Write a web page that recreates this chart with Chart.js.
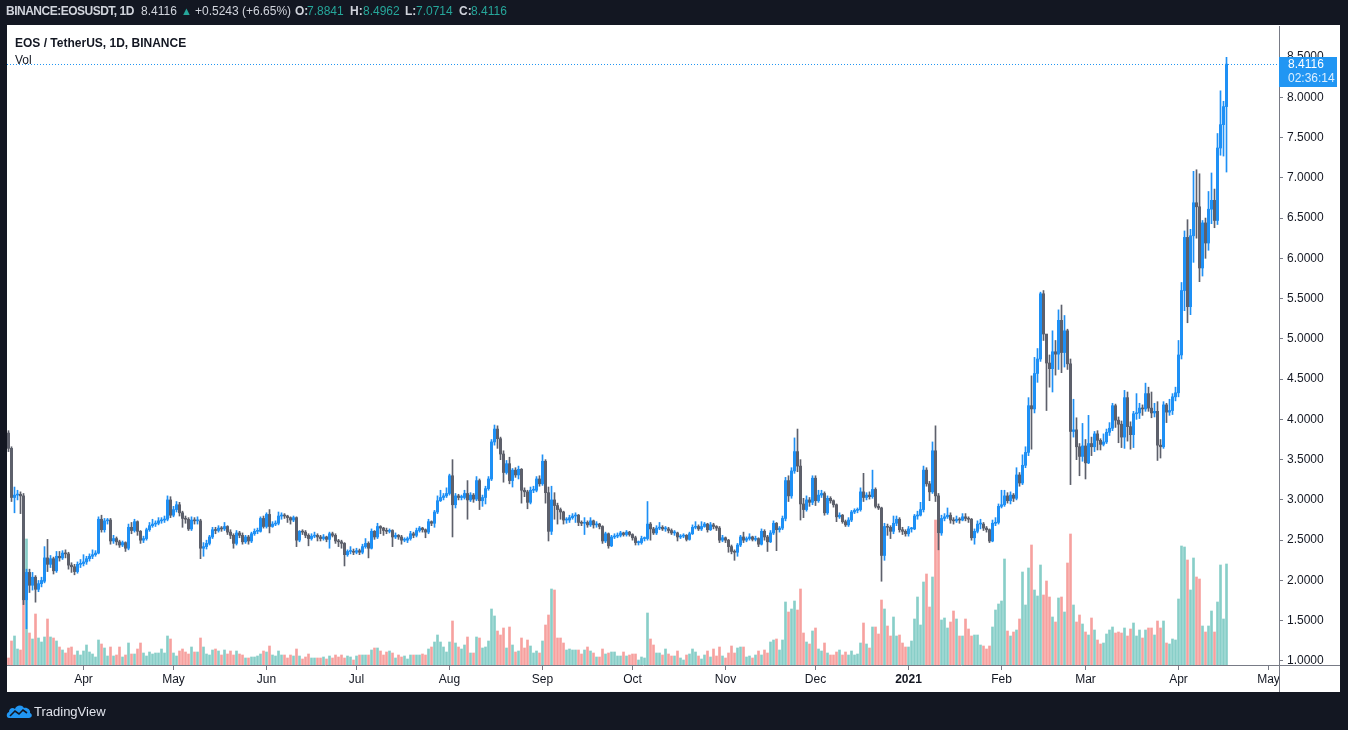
<!DOCTYPE html>
<html>
<head>
<meta charset="utf-8">
<script src="https://cdn.jsdelivr.net/npm/chart.js@4.4.1/dist/chart.umd.min.js"></script>
<style>
html, body { margin: 0; padding: 0; background: #131722; width: 1348px; height: 730px; overflow: hidden; font-family: "Liberation Sans", Arial, sans-serif; }
#panel { position: absolute; left: 7px; top: 25px; width: 1333px; height: 667px; background: #ffffff; }
#chart { position: absolute; left: 0; top: 0; }
.hd { position: absolute; top: 4px; font-size: 12px; line-height: 14px; color: #d1d4dc; white-space: nowrap; }
.b { font-weight: bold; }
.t { color: #26a69a; }
.ttl { position: absolute; left: 15px; font-size: 12px; color: #131722; white-space: nowrap; }
#brand { position: absolute; left: 34px; top: 704px; font-size: 13px; color: #e0e3eb; }
#logo { position: absolute; left: 6px; top: 702px; }
</style>
</head>
<body>
<div id="panel"></div>
<canvas id="chart" width="1348" height="730"></canvas>

<div class="hd b" style="left:6px;letter-spacing:-0.5px">BINANCE:EOSUSDT, 1D</div>
<div class="hd" style="left:141px">8.4116</div>
<div class="hd t" style="left:181px;font-size:11px">▲</div>
<div class="hd" style="left:195px">+0.5243 (+6.65%)</div>
<div class="hd b" style="left:295px">O:</div><div class="hd t" style="left:307px">7.8841</div>
<div class="hd b" style="left:350px">H:</div><div class="hd t" style="left:363px">8.4962</div>
<div class="hd b" style="left:405px">L:</div><div class="hd t" style="left:416px">7.0714</div>
<div class="hd b" style="left:459px">C:</div><div class="hd t" style="left:471px">8.4116</div>

<div class="ttl b" style="top:36px">EOS / TetherUS, 1D, BINANCE</div>
<div class="ttl" style="top:53px">Vol</div>

<svg id="logo" width="27" height="18" viewBox="0 0 27 18">
  <path d="M3 16 C0 16 0 11 3 10 C3 6 7 5 9 7 C10 3 16 2 18 6 C21 5 25 8 24 11 C27 12 26 16 23 16 Z" fill="#2196f3"/>
  <path d="M4 14 L9 9 L13 12 L17 8 L21 11" stroke="#131722" stroke-width="1.6" fill="none"/>
</svg>
<div id="brand">TradingView</div>

<script>
// daily candles, first one 2020-03-07
const firstDay = '2020-03-07';
const slotCount = 424; // includes empty days to the right of the last candle

const opens = [
    3.83, 3.64, 3.03, 3.06, 3.07, 3.05, 1.76, 2.10, 1.94, 2.04,
    1.89, 1.96, 1.99, 2.28, 2.20, 2.27, 2.12, 2.30, 2.28, 2.34,
    2.33, 2.19, 2.17, 2.11, 2.20, 2.21, 2.23, 2.27, 2.30, 2.32,
    2.34, 2.76, 2.63, 2.74, 2.75, 2.49, 2.52, 2.48, 2.44, 2.47,
    2.40, 2.66, 2.62, 2.73, 2.61, 2.50, 2.52, 2.63, 2.68, 2.70,
    2.71, 2.74, 2.75, 2.76, 3.00, 2.81, 2.88, 2.94, 2.84, 2.77,
    2.76, 2.64, 2.75, 2.74, 2.74, 2.40, 2.42, 2.46, 2.54, 2.63,
    2.62, 2.65, 2.64, 2.67, 2.60, 2.56, 2.46, 2.59, 2.56, 2.48,
    2.54, 2.49, 2.58, 2.61, 2.61, 2.77, 2.67, 2.82, 2.67, 2.70,
    2.71, 2.80, 2.81, 2.80, 2.78, 2.75, 2.78, 2.50, 2.61, 2.60,
    2.56, 2.52, 2.55, 2.56, 2.54, 2.52, 2.54, 2.51, 2.58, 2.56,
    2.49, 2.48, 2.46, 2.32, 2.36, 2.36, 2.35, 2.37, 2.35, 2.42,
    2.46, 2.40, 2.61, 2.54, 2.67, 2.65, 2.62, 2.61, 2.62, 2.54,
    2.56, 2.54, 2.50, 2.50, 2.52, 2.58, 2.56, 2.62, 2.65, 2.63,
    2.60, 2.73, 2.71, 2.85, 2.99, 3.03, 3.05, 3.08, 3.30, 2.94,
    3.05, 3.03, 3.03, 3.08, 3.00, 3.06, 3.01, 3.24, 2.99, 3.03,
    3.14, 3.26, 3.72, 3.88, 3.76, 3.57, 3.34, 3.45, 3.24, 3.37,
    3.31, 3.38, 3.12, 3.10, 2.97, 3.12, 3.12, 3.26, 3.20, 3.48,
    3.09, 2.61, 3.00, 2.93, 2.88, 2.85, 2.75, 2.75, 2.78, 2.80,
    2.81, 2.72, 2.71, 2.72, 2.69, 2.74, 2.69, 2.70, 2.67, 2.49,
    2.58, 2.43, 2.54, 2.55, 2.56, 2.59, 2.57, 2.60, 2.57, 2.53,
    2.47, 2.47, 2.52, 2.52, 2.70, 2.64, 2.59, 2.65, 2.66, 2.64,
    2.64, 2.62, 2.59, 2.59, 2.54, 2.55, 2.56, 2.51, 2.58, 2.66,
    2.67, 2.64, 2.67, 2.70, 2.63, 2.69, 2.67, 2.65, 2.50, 2.53,
    2.50, 2.42, 2.36, 2.35, 2.44, 2.54, 2.50, 2.52, 2.54, 2.51,
    2.52, 2.45, 2.61, 2.54, 2.48, 2.59, 2.71, 2.63, 2.65, 2.77,
    3.24, 3.05, 3.36, 3.60, 3.42, 2.95, 2.88, 3.00, 2.97, 3.27,
    2.99, 3.06, 3.08, 2.84, 3.02, 2.99, 2.94, 2.79, 2.81, 2.73,
    2.69, 2.75, 2.85, 2.87, 2.88, 3.10, 3.03, 3.06, 3.04, 3.13,
    2.92, 2.90, 2.31, 2.67, 2.66, 2.61, 2.71, 2.76, 2.63, 2.61,
    2.58, 2.64, 2.64, 2.80, 2.81, 2.88, 3.37, 3.20, 3.10, 3.61,
    3.05, 2.59, 2.77, 2.79, 2.81, 2.75, 2.74, 2.76, 2.75, 2.79,
    2.77, 2.76, 2.53, 2.61, 2.70, 2.70, 2.65, 2.63, 2.49, 2.71,
    2.72, 2.92, 2.94, 3.05, 2.99, 3.06, 3.02, 3.31, 3.21, 3.43,
    3.59, 4.17, 4.13, 4.57, 4.75, 5.56, 5.06, 4.70, 4.63, 4.84,
    4.81, 5.23, 4.83, 5.10, 4.69, 3.85, 3.87, 3.66, 3.54, 3.67,
    3.46, 3.70, 3.66, 3.82, 3.74, 3.69, 3.72, 3.84, 3.89, 4.17,
    3.99, 3.94, 3.78, 4.27, 3.91, 3.81, 4.07, 4.08, 4.14, 4.13,
    4.32, 4.14, 4.08, 4.10, 3.68, 3.66, 4.18, 4.09, 4.11, 4.28,
    4.33, 4.80, 5.60, 6.26, 5.40, 6.28, 6.69, 6.64, 5.88, 6.44,
    6.19, 6.61, 6.72, 6.47, 7.37, 7.66, 7.8841
];

const highs = [
    3.86, 3.66, 3.16, 3.12, 3.10, 3.08, 2.14, 2.14, 2.10, 2.06,
    2.00, 2.04, 2.42, 2.51, 2.31, 2.29, 2.36, 2.36, 2.37, 2.38,
    2.35, 2.22, 2.20, 2.23, 2.26, 2.32, 2.30, 2.33, 2.38, 2.37,
    2.79, 2.81, 2.77, 2.77, 2.77, 2.56, 2.54, 2.50, 2.49, 2.48,
    2.70, 2.72, 2.76, 2.74, 2.62, 2.55, 2.65, 2.72, 2.76, 2.74,
    2.78, 2.78, 2.80, 3.05, 3.04, 2.92, 2.98, 2.97, 2.86, 2.80,
    2.78, 2.79, 2.78, 2.79, 2.76, 2.47, 2.50, 2.56, 2.66, 2.66,
    2.68, 2.67, 2.72, 2.68, 2.63, 2.58, 2.62, 2.61, 2.59, 2.56,
    2.56, 2.60, 2.64, 2.65, 2.79, 2.80, 2.84, 2.88, 2.73, 2.74,
    2.85, 2.84, 2.83, 2.81, 2.79, 2.80, 2.79, 2.62, 2.63, 2.62,
    2.58, 2.58, 2.60, 2.58, 2.56, 2.57, 2.55, 2.60, 2.60, 2.58,
    2.51, 2.50, 2.47, 2.38, 2.42, 2.39, 2.40, 2.39, 2.45, 2.52,
    2.48, 2.64, 2.62, 2.71, 2.68, 2.66, 2.65, 2.64, 2.63, 2.59,
    2.57, 2.56, 2.53, 2.54, 2.61, 2.60, 2.65, 2.67, 2.66, 2.64,
    2.76, 2.74, 2.87, 3.05, 3.12, 3.08, 3.15, 3.32, 3.50, 3.08,
    3.07, 3.06, 3.12, 3.24, 3.09, 3.08, 3.29, 3.26, 3.06, 3.17,
    3.29, 3.75, 3.93, 3.92, 3.78, 3.61, 3.49, 3.53, 3.39, 3.40,
    3.42, 3.39, 3.15, 3.12, 3.16, 3.17, 3.29, 3.30, 3.56, 3.50,
    3.16, 3.17, 3.09, 2.96, 2.90, 2.86, 2.78, 2.81, 2.83, 2.84,
    2.82, 2.74, 2.78, 2.74, 2.78, 2.75, 2.73, 2.71, 2.68, 2.60,
    2.59, 2.56, 2.58, 2.59, 2.61, 2.60, 2.62, 2.61, 2.58, 2.55,
    2.49, 2.55, 2.54, 2.98, 2.72, 2.66, 2.68, 2.72, 2.68, 2.67,
    2.66, 2.64, 2.62, 2.60, 2.57, 2.58, 2.57, 2.60, 2.69, 2.73,
    2.69, 2.73, 2.72, 2.71, 2.72, 2.71, 2.68, 2.67, 2.56, 2.54,
    2.51, 2.44, 2.38, 2.46, 2.56, 2.60, 2.54, 2.58, 2.55, 2.55,
    2.53, 2.64, 2.63, 2.56, 2.62, 2.74, 2.72, 2.67, 2.80, 3.28,
    3.30, 3.40, 3.77, 3.88, 3.50, 3.02, 3.05, 3.03, 3.30, 3.30,
    3.12, 3.12, 3.10, 3.05, 3.04, 3.00, 2.95, 2.84, 2.82, 2.75,
    2.78, 2.87, 2.89, 2.90, 3.15, 3.33, 3.09, 3.10, 3.37, 3.15,
    2.95, 2.91, 2.71, 2.70, 2.68, 2.80, 2.80, 2.78, 2.66, 2.63,
    2.67, 2.66, 2.82, 2.86, 2.97, 3.42, 3.40, 3.23, 3.72, 3.92,
    3.08, 2.81, 2.83, 2.90, 2.84, 2.78, 2.80, 2.78, 2.83, 2.83,
    2.79, 2.77, 2.64, 2.74, 2.76, 2.72, 2.67, 2.64, 2.75, 2.78,
    2.95, 3.12, 3.12, 3.09, 3.10, 3.08, 3.40, 3.34, 3.56, 3.66,
    4.27, 4.54, 4.77, 4.88, 5.58, 5.60, 5.05, 4.80, 5.10, 4.98,
    5.36, 5.42, 5.29, 5.12, 4.75, 4.25, 4.02, 3.70, 3.95, 3.75,
    4.05, 3.78, 3.85, 3.86, 3.76, 3.82, 3.88, 3.96, 4.20, 4.19,
    4.03, 3.98, 4.36, 4.34, 3.97, 4.10, 4.32, 4.20, 4.18, 4.45,
    4.40, 4.34, 4.20, 4.22, 3.75, 4.22, 4.20, 4.25, 4.32, 4.40,
    4.98, 5.70, 6.34, 6.48, 6.36, 7.08, 7.10, 7.05, 6.47, 6.50,
    6.83, 7.06, 6.86, 7.55, 8.08, 7.95, 8.4962
];

const lows = [
    3.60, 2.98, 2.84, 3.00, 2.83, 1.70, 1.40, 1.85, 1.88, 1.73,
    1.86, 1.92, 1.97, 2.11, 2.16, 2.08, 2.10, 2.24, 2.26, 2.28,
    2.14, 2.10, 2.07, 2.09, 2.16, 2.18, 2.20, 2.24, 2.27, 2.30,
    2.33, 2.60, 2.60, 2.70, 2.45, 2.46, 2.44, 2.41, 2.42, 2.36,
    2.38, 2.58, 2.60, 2.56, 2.46, 2.47, 2.50, 2.61, 2.66, 2.67,
    2.69, 2.71, 2.72, 2.74, 2.78, 2.79, 2.85, 2.80, 2.66, 2.71,
    2.62, 2.62, 2.70, 2.70, 2.27, 2.30, 2.39, 2.44, 2.52, 2.58,
    2.60, 2.61, 2.62, 2.57, 2.52, 2.40, 2.44, 2.53, 2.45, 2.46,
    2.45, 2.47, 2.56, 2.58, 2.60, 2.65, 2.65, 2.59, 2.66, 2.68,
    2.69, 2.76, 2.77, 2.72, 2.70, 2.73, 2.42, 2.48, 2.57, 2.53,
    2.43, 2.50, 2.53, 2.49, 2.49, 2.50, 2.48, 2.40, 2.54, 2.46,
    2.42, 2.40, 2.18, 2.30, 2.33, 2.32, 2.33, 2.32, 2.33, 2.40,
    2.28, 2.39, 2.51, 2.52, 2.58, 2.56, 2.58, 2.59, 2.42, 2.52,
    2.51, 2.45, 2.48, 2.47, 2.50, 2.53, 2.54, 2.60, 2.60, 2.53,
    2.58, 2.68, 2.66, 2.83, 2.98, 3.00, 3.03, 3.06, 2.54, 2.90,
    3.00, 3.00, 3.01, 2.76, 2.98, 2.97, 2.99, 2.88, 2.92, 2.95,
    3.12, 3.24, 3.68, 3.64, 3.50, 3.22, 3.32, 3.20, 3.16, 3.28,
    3.26, 2.96, 3.04, 2.89, 2.95, 3.09, 3.10, 3.17, 3.18, 2.96,
    2.49, 2.57, 2.76, 2.70, 2.76, 2.70, 2.71, 2.72, 2.76, 2.72,
    2.68, 2.68, 2.57, 2.66, 2.67, 2.65, 2.66, 2.64, 2.46, 2.47,
    2.40, 2.42, 2.52, 2.53, 2.54, 2.55, 2.55, 2.55, 2.50, 2.44,
    2.44, 2.45, 2.49, 2.50, 2.50, 2.57, 2.57, 2.63, 2.62, 2.61,
    2.59, 2.57, 2.56, 2.49, 2.52, 2.53, 2.49, 2.50, 2.57, 2.64,
    2.62, 2.62, 2.66, 2.60, 2.62, 2.64, 2.62, 2.47, 2.48, 2.47,
    2.35, 2.33, 2.25, 2.30, 2.42, 2.47, 2.48, 2.50, 2.49, 2.49,
    2.42, 2.44, 2.50, 2.36, 2.47, 2.57, 2.37, 2.60, 2.63, 2.74,
    2.98, 3.02, 3.33, 3.35, 2.75, 2.78, 2.86, 2.92, 2.94, 2.93,
    2.97, 3.03, 2.81, 2.82, 2.96, 2.91, 2.73, 2.77, 2.71, 2.67,
    2.67, 2.73, 2.83, 2.84, 2.86, 2.98, 3.00, 3.01, 3.02, 2.90,
    2.88, 1.99, 2.25, 2.56, 2.52, 2.58, 2.68, 2.60, 2.57, 2.55,
    2.55, 2.60, 2.63, 2.76, 2.80, 2.85, 3.17, 2.99, 3.08, 2.98,
    2.38, 2.56, 2.74, 2.77, 2.71, 2.70, 2.72, 2.71, 2.74, 2.74,
    2.72, 2.50, 2.45, 2.59, 2.64, 2.62, 2.60, 2.47, 2.48, 2.68,
    2.70, 2.90, 2.92, 2.96, 2.95, 2.98, 3.00, 3.17, 3.19, 3.40,
    3.55, 3.63, 4.08, 4.46, 4.72, 4.98, 4.11, 4.40, 4.34, 4.55,
    4.62, 4.58, 4.65, 4.62, 3.19, 3.78, 3.50, 3.30, 3.48, 3.26,
    3.45, 3.55, 3.60, 3.62, 3.62, 3.67, 3.70, 3.80, 3.86, 3.90,
    3.71, 3.65, 3.64, 3.73, 3.63, 3.65, 4.00, 4.01, 4.05, 4.10,
    4.10, 4.02, 4.03, 3.49, 3.52, 3.64, 3.96, 4.05, 4.06, 4.23,
    4.28, 4.75, 5.35, 5.20, 5.30, 5.95, 6.25, 5.71, 5.78, 6.00,
    6.10, 6.43, 6.38, 6.42, 7.28, 7.27, 7.0714
];

const closes = [
    3.64, 3.03, 3.06, 3.07, 3.05, 1.76, 2.10, 1.94, 2.04, 1.89,
    1.96, 2.00, 2.28, 2.20, 2.27, 2.12, 2.30, 2.28, 2.34, 2.33,
    2.19, 2.17, 2.11, 2.20, 2.21, 2.23, 2.27, 2.30, 2.32, 2.34,
    2.76, 2.63, 2.74, 2.75, 2.49, 2.52, 2.48, 2.44, 2.47, 2.40,
    2.66, 2.62, 2.73, 2.61, 2.50, 2.52, 2.63, 2.68, 2.70, 2.71,
    2.74, 2.75, 2.76, 3.00, 2.81, 2.88, 2.94, 2.84, 2.77, 2.76,
    2.64, 2.75, 2.74, 2.74, 2.40, 2.42, 2.46, 2.54, 2.63, 2.62,
    2.65, 2.64, 2.67, 2.60, 2.56, 2.46, 2.59, 2.56, 2.48, 2.54,
    2.49, 2.58, 2.61, 2.61, 2.77, 2.67, 2.82, 2.67, 2.70, 2.71,
    2.80, 2.81, 2.80, 2.78, 2.75, 2.78, 2.50, 2.61, 2.60, 2.56,
    2.52, 2.55, 2.56, 2.54, 2.52, 2.54, 2.51, 2.58, 2.56, 2.49,
    2.48, 2.46, 2.32, 2.36, 2.36, 2.35, 2.37, 2.35, 2.42, 2.46,
    2.40, 2.61, 2.54, 2.67, 2.65, 2.62, 2.61, 2.62, 2.54, 2.56,
    2.54, 2.50, 2.50, 2.52, 2.58, 2.56, 2.62, 2.65, 2.63, 2.60,
    2.73, 2.71, 2.85, 2.99, 3.03, 3.05, 3.08, 3.30, 2.94, 3.05,
    3.03, 3.03, 3.08, 3.00, 3.06, 3.01, 3.24, 2.99, 3.03, 3.14,
    3.26, 3.72, 3.88, 3.76, 3.57, 3.34, 3.45, 3.24, 3.37, 3.31,
    3.38, 3.12, 3.10, 2.97, 3.12, 3.12, 3.26, 3.20, 3.48, 3.09,
    2.61, 3.00, 2.93, 2.88, 2.85, 2.75, 2.75, 2.78, 2.80, 2.81,
    2.72, 2.71, 2.72, 2.69, 2.74, 2.69, 2.70, 2.67, 2.49, 2.58,
    2.43, 2.54, 2.55, 2.56, 2.59, 2.57, 2.60, 2.57, 2.53, 2.47,
    2.47, 2.52, 2.52, 2.70, 2.64, 2.59, 2.65, 2.66, 2.64, 2.64,
    2.62, 2.59, 2.59, 2.54, 2.55, 2.56, 2.51, 2.58, 2.66, 2.67,
    2.64, 2.67, 2.70, 2.63, 2.69, 2.67, 2.65, 2.50, 2.53, 2.50,
    2.42, 2.36, 2.35, 2.44, 2.54, 2.50, 2.52, 2.54, 2.51, 2.52,
    2.45, 2.61, 2.54, 2.48, 2.59, 2.71, 2.63, 2.65, 2.77, 3.24,
    3.05, 3.36, 3.60, 3.42, 2.95, 2.88, 3.00, 2.97, 3.27, 2.99,
    3.06, 3.08, 2.84, 3.02, 2.99, 2.94, 2.79, 2.81, 2.73, 2.69,
    2.75, 2.85, 2.87, 2.88, 3.10, 3.03, 3.06, 3.04, 3.13, 2.92,
    2.90, 2.31, 2.67, 2.66, 2.61, 2.71, 2.76, 2.63, 2.61, 2.58,
    2.64, 2.64, 2.80, 2.81, 2.88, 3.37, 3.20, 3.10, 3.61, 3.05,
    2.59, 2.77, 2.79, 2.81, 2.75, 2.74, 2.76, 2.75, 2.79, 2.77,
    2.76, 2.53, 2.61, 2.70, 2.70, 2.65, 2.63, 2.49, 2.71, 2.72,
    2.92, 2.94, 3.05, 2.99, 3.06, 3.02, 3.31, 3.21, 3.43, 3.59,
    4.17, 4.13, 4.57, 4.75, 5.56, 5.06, 4.70, 4.63, 4.84, 4.81,
    5.23, 4.83, 5.10, 4.69, 3.85, 3.87, 3.66, 3.54, 3.67, 3.46,
    3.70, 3.66, 3.82, 3.74, 3.69, 3.72, 3.84, 3.89, 4.17, 3.99,
    3.94, 3.78, 4.27, 3.91, 3.81, 4.07, 4.08, 4.14, 4.13, 4.32,
    4.14, 4.08, 4.10, 3.68, 3.66, 4.18, 4.09, 4.11, 4.28, 4.33,
    4.80, 5.60, 6.26, 5.40, 6.28, 6.69, 6.64, 5.88, 6.44, 6.19,
    6.61, 6.72, 6.47, 7.37, 7.66, 7.8841, 8.4116
];

const volumes = [
    7, 24, 29, 16, 15, 65, 126, 32, 26, 51,
    27, 23, 28, 46, 28, 27, 24, 18, 15, 12,
    17, 18, 10, 14, 10, 14, 20, 13, 11, 8,
    25, 21, 17, 9, 18, 9, 10, 18, 8, 10,
    22, 11, 11, 16, 22, 12, 9, 13, 11, 12,
    12, 16, 12, 29, 26, 12, 9, 14, 16, 13,
    11, 18, 13, 13, 27, 18, 11, 10, 15, 16,
    14, 10, 15, 11, 14, 10, 14, 11, 10, 7,
    7, 8, 8, 9, 11, 14, 13, 19, 10, 9,
    14, 10, 10, 7, 10, 9, 16, 9, 6, 8,
    11, 7, 7, 7, 7, 8, 6, 9, 7, 10,
    8, 10, 7, 9, 8, 5, 9, 10, 10, 10,
    10, 15, 17, 17, 14, 10, 13, 14, 12, 7,
    10, 8, 9, 6, 10, 10, 10, 10, 11, 10,
    16, 18, 23, 30, 23, 18, 13, 23, 44, 22,
    18, 16, 20, 28, 12, 12, 28, 27, 17, 18,
    24, 56, 49, 34, 30, 37, 17, 38, 20, 13,
    14, 27, 17, 25, 19, 12, 14, 12, 24, 40,
    50, 76, 75, 27, 27, 22, 15, 16, 15, 15,
    15, 11, 15, 18, 14, 12, 8, 8, 16, 11,
    12, 13, 13, 9, 9, 13, 9, 10, 11, 11,
    5, 8, 7, 52, 26, 20, 12, 12, 10, 16,
    11, 9, 9, 14, 7, 5, 10, 11, 16, 13,
    9, 6, 10, 14, 8, 16, 9, 18, 9, 7,
    12, 19, 12, 17, 18, 18, 8, 9, 7, 10,
    14, 10, 15, 12, 23, 25, 26, 15, 25, 63,
    53, 56, 64, 55, 76, 32, 23, 21, 34, 37,
    16, 14, 22, 12, 10, 10, 13, 15, 10, 13,
    10, 14, 10, 11, 22, 42, 21, 17, 38, 38,
    31, 65, 56, 39, 29, 48, 29, 30, 22, 18,
    18, 24, 46, 68, 40, 83, 91, 58, 88, 145,
    131, 45, 47, 37, 43, 54, 46, 29, 29, 46,
    36, 29, 30, 30, 20, 19, 16, 19, 38, 55,
    61, 64, 106, 34, 29, 33, 35, 46, 93, 60,
    97, 120, 75, 69, 100, 70, 84, 68, 48, 43,
    67, 68, 53, 102, 131, 60, 43, 50, 41, 33,
    30, 47, 35, 25, 21, 22, 31, 35, 38, 32,
    33, 32, 37, 29, 36, 42, 29, 35, 27, 35,
    37, 37, 30, 44, 37, 44, 22, 21, 26, 25,
    66, 119, 118, 105, 75, 107, 88, 86, 39, 33,
    39, 54, 33, 63, 100, 46, 101
];

const tickDates = ['2020-04-01', '2020-05-01', '2020-06-01', '2020-07-01', '2020-08-01', '2020-09-01', '2020-10-01',
    '2020-11-01', '2020-12-01', '2021-01-01', '2021-02-01', '2021-03-01', '2021-04-01', '2021-05-01'];
const tickNames = ['Apr', 'May', 'Jun', 'Jul', 'Aug', 'Sep', 'Oct', 'Nov', 'Dec', '2021', 'Feb', 'Mar', 'Apr', 'May'];
const priceTicks = [1.0, 1.5, 2.0, 2.5, 3.0, 3.5, 4.0, 4.5, 5.0, 5.5, 6.0, 6.5, 7.0, 7.5, 8.0, 8.5];

const lastPrice = 8.4116;
const countdown = '02:36:14';

const upColor = '#1e90f5';
const downColor = '#5d606b';
const upVol = 'rgba(38, 166, 154, 0.55)';
const downVol = 'rgba(239, 83, 80, 0.55)';
const axisColor = '#787b86';

// day labels
const days = [];
const start = new Date(firstDay + 'T00:00:00Z');
for (let i = 0; i < slotCount; i++) {
    const d = new Date(start.getTime() + i * 86400000);
    days.push(d.toISOString().slice(0, 10));
}

const isUp = (i) => closes[i] >= opens[i];

const bodies = closes.map((c, i) => [opens[i], c]);
const wicks = closes.map((c, i) => [lows[i], highs[i]]);

const lastPriceLine = {
    id: 'lastPriceLine',
    afterDatasetsDraw(chart) {
        const area = chart.chartArea;
        const y = Math.round(chart.scales.y.getPixelForValue(lastPrice)) + 0.5;
        const ctx = chart.ctx;
        ctx.save();
        ctx.strokeStyle = '#2196f3';
        ctx.lineWidth = 1;
        ctx.setLineDash([1, 2]);
        ctx.beginPath();
        ctx.moveTo(area.left, y);
        ctx.lineTo(area.right, y);
        ctx.stroke();
        ctx.restore();
    },
    afterDraw(chart) {
        const area = chart.chartArea;
        const ctx = chart.ctx;
        ctx.save();
        // corner under the price axis: blank, with both axis lines running through
        ctx.fillStyle = '#ffffff';
        ctx.fillRect(area.right + 1, area.bottom + 1, 60, 26);
        ctx.strokeStyle = axisColor;
        ctx.lineWidth = 1;
        ctx.beginPath();
        ctx.moveTo(area.right + 0.5, area.bottom);
        ctx.lineTo(area.right + 0.5, area.bottom + 27);
        ctx.moveTo(area.right, area.bottom + 0.5);
        ctx.lineTo(area.right + 61, area.bottom + 0.5);
        ctx.stroke();

        const y = Math.round(chart.scales.y.getPixelForValue(lastPrice));
        ctx.fillStyle = '#2196f3';
        ctx.fillRect(area.right, y - 7, 58, 30);
        ctx.fillStyle = '#ffffff';
        ctx.font = '12px "Liberation Sans", Arial, sans-serif';
        ctx.textBaseline = 'middle';
        ctx.fillText(lastPrice.toFixed(4), area.right + 9, y + 1);
        ctx.fillStyle = '#dcefff';
        ctx.fillText(countdown, area.right + 9, y + 15);
        ctx.restore();
    }
};

new Chart(document.getElementById('chart'), {
    type: 'bar',
    data: {
        labels: days,
        datasets: [
            {
                label: 'body',
                data: bodies,
                backgroundColor: (ctx) => isUp(ctx.dataIndex) ? upColor : downColor,
                barThickness: 2.4,
                minBarLength: 1,
                grouped: false,
                order: 0,
                yAxisID: 'y'
            },
            {
                label: 'wick',
                data: wicks,
                backgroundColor: (ctx) => isUp(ctx.dataIndex) ? upColor : downColor,
                barThickness: 1,
                grouped: false,
                order: 1,
                yAxisID: 'y'
            },
            {
                label: 'Vol',
                data: volumes,
                backgroundColor: (ctx) => isUp(ctx.dataIndex) ? upVol : downVol,
                barThickness: 2,
                grouped: false,
                order: 2,
                yAxisID: 'yv'
            }
        ]
    },
    options: {
        responsive: false,
        animation: false,
        layout: { padding: { left: 7, right: 8, top: 26, bottom: 38 } },
        plugins: { legend: { display: false }, tooltip: { enabled: false } },
        scales: {
            x: {
                offset: true,
                afterFit: (s) => { s.height = 27; },
                grid: { drawOnChartArea: false, drawTicks: true, tickLength: 5, color: axisColor, offset: false },
                border: { display: true, color: axisColor },
                ticks: {
                    autoSkip: false,
                    maxRotation: 0,
                    minRotation: 0,
                    padding: 2,
                    color: '#131722',
                    font: (ctx) => ({
                        family: '"Liberation Sans", Arial, sans-serif',
                        size: 12,
                        weight: ctx.tick && ctx.tick.label === '2021' ? 'bold' : 'normal'
                    }),
                    callback: (v, i) => {
                        const k = tickDates.indexOf(days[i]);
                        return k < 0 ? null : tickNames[k];
                    }
                }
            },
            y: {
                position: 'right',
                min: 0.95,
                max: 8.885,
                afterFit: (s) => { s.width = 61; },
                afterBuildTicks: (s) => { s.ticks = priceTicks.map(v => ({ value: v })); },
                grid: { drawOnChartArea: false, drawTicks: true, tickLength: 4, color: axisColor },
                border: { display: true, color: axisColor },
                ticks: {
                    padding: 4,
                    color: '#131722',
                    font: { family: '"Liberation Sans", Arial, sans-serif', size: 12 },
                    callback: (v) => Number(v).toFixed(4)
                }
            },
            yv: {
                display: false,
                min: 0,
                max: 639
            }
        }
    },
    plugins: [lastPriceLine]
});
</script>
</body>
</html>
